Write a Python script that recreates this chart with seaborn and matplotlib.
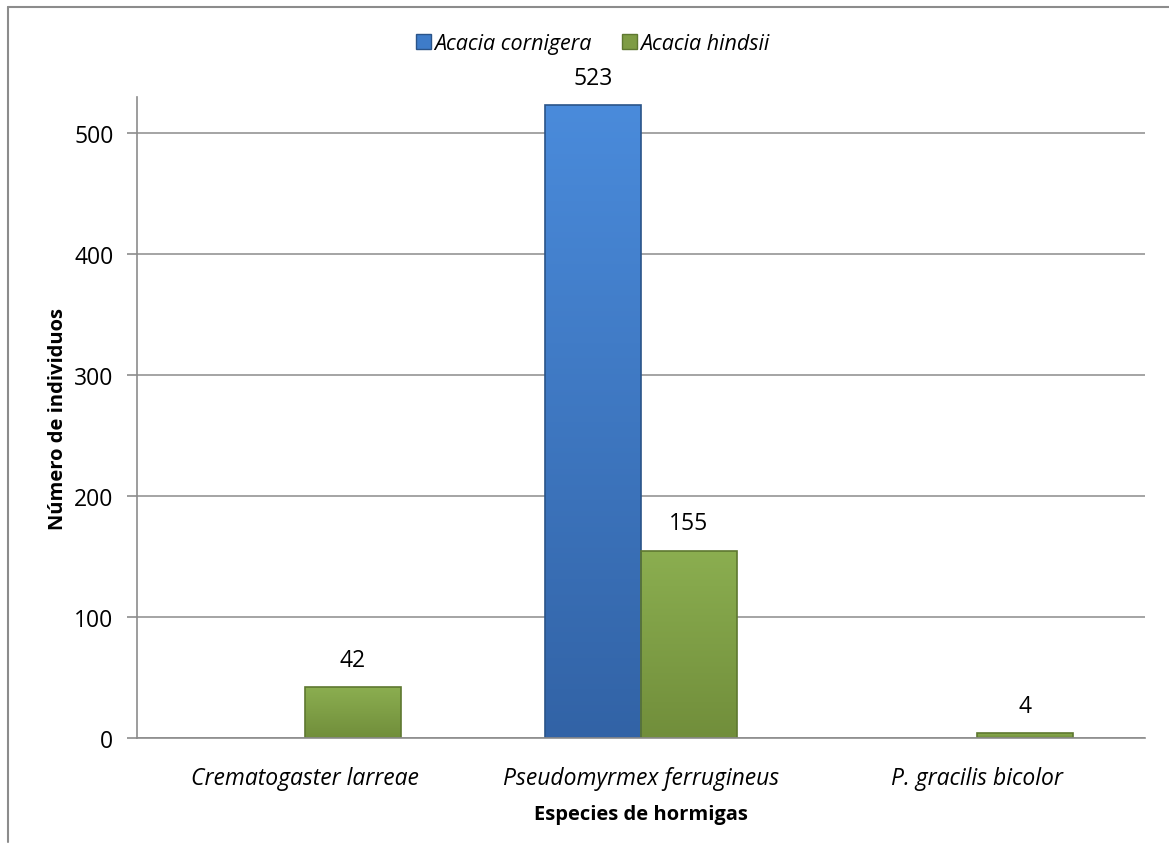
import numpy as np
import pandas as pd
import matplotlib
matplotlib.use("Agg")
import matplotlib.pyplot as plt
from matplotlib.lines import Line2D
from matplotlib.patches import Patch
from matplotlib.colors import LinearSegmentedColormap
import seaborn as sns

# Ant species counted on each acacia host
especies = ["Crematogaster larreae", "Pseudomyrmex ferrugineus", "P. gracilis bicolor"]
acacias = ["Acacia cornigera", "Acacia hindsii"]
cornigera = [None, 523, None]
hindsii = [42, 155, 4]
y_ticks = [0, 100, 200, 300, 400, 500]

rows = []
for sp, c, h in zip(especies, cornigera, hindsii):
    if c is not None:
        rows.append({"especie": sp, "acacia": acacias[0], "n": c})
    if h is not None:
        rows.append({"especie": sp, "acacia": acacias[1], "n": h})
df = pd.DataFrame(rows)

sns.set_theme(style="white")
font = ["Open Sans", "DejaVu Sans"]
plt.rcParams["font.family"] = font
plt.rcParams["text.color"] = "#000000"
plt.rcParams["axes.labelcolor"] = "#000000"
plt.rcParams["xtick.color"] = "#000000"
plt.rcParams["ytick.color"] = "#000000"

FS = 16.5
LABEL_FS = 14.5

base = {"Acacia cornigera": "#3E7CC9", "Acacia hindsii": "#7E9C44"}
grad = {
    "Acacia cornigera": ("#4A8BDB", "#3263A6"),
    "Acacia hindsii": ("#8BAE50", "#718E3B"),
}
edges = {"Acacia cornigera": "#2A5489", "Acacia hindsii": "#5E7830"}

fig = plt.figure(figsize=(11.69, 8.45), dpi=100)
ax = fig.add_axes([0.1172, 0.1254, 0.8623, 0.7586])

sns.barplot(data=df, x="especie", y="n", hue="acacia", order=especies,
            hue_order=acacias, palette=base, width=0.57, dodge=True,
            saturation=1, ax=ax, legend=False, errorbar=None)

# vertical gradient fill clipped to each bar
for container, name in zip(ax.containers, acacias):
    cmap = LinearSegmentedColormap.from_list(name, [grad[name][1], grad[name][0]])
    for bar, val in zip(container.patches, container.datavalues):
        if not np.isfinite(val) or bar.get_height() <= 0:
            continue
        x0, y0 = bar.get_x(), bar.get_y()
        w, h = bar.get_width(), bar.get_height()
        g = np.linspace(0, 1, 256).reshape(-1, 1)
        im = ax.imshow(g, extent=[x0, x0 + w, y0, y0 + h], origin="lower",
                       aspect="auto", cmap=cmap, zorder=2.1)
        im.set_clip_path(bar)
        bar.set_edgecolor(edges[name])
        bar.set_linewidth(1.2)
        bar.set_zorder(2.2)
        bar.set_facecolor("none")
        ax.annotate(f"{int(val)}", (x0 + w / 2, y0 + h), xytext=(0, 11),
                    textcoords="offset points", ha="center", va="bottom",
                    fontsize=FS, family=font, color="black")

ax.set_xlim(-0.5, 2.5)
ax.set_ylim(0, 530)
ax.set_yticks(y_ticks)
ax.set_yticklabels([str(t) for t in y_ticks], fontsize=FS)
ax.set_xticks(range(len(especies)))
ax.set_xticklabels(especies, fontsize=FS, style="italic")
ax.tick_params(axis="y", length=7, width=1.2, color="#8C8C8C", left=True,
               pad=10, labelcolor="black")
ax.tick_params(axis="x", length=0, pad=20, labelcolor="black")

ax.grid(axis="y", color="#8C8C8C", linewidth=1.1, zorder=0)
ax.set_axisbelow(True)
for s in ["top", "right"]:
    ax.spines[s].set_visible(False)
for s in ["left", "bottom"]:
    ax.spines[s].set_color("#8C8C8C")
    ax.spines[s].set_linewidth(1.2)

ax.set_xlabel("Especies de hormigas", fontsize=LABEL_FS, fontweight="bold",
              labelpad=10, color="black")
ax.set_ylabel("Número de individuos", fontsize=LABEL_FS, fontweight="bold",
              labelpad=4, color="black")

handles = [Patch(facecolor=base[a], edgecolor=edges[a]) for a in acacias]
fig.legend(handles, acacias, loc="center", bbox_to_anchor=(0.507, 0.947),
           ncol=2, frameon=False, handlelength=0.7, handleheight=0.7,
           handletextpad=0.15, columnspacing=1.4,
           prop={"size": 15.5, "style": "italic", "family": font})

# outer frame of the chart area
fig.add_artist(Line2D([7.5 / 1169, 7.5 / 1169], [1 - 843 / 845, 1 - 8 / 845],
                      transform=fig.transFigure, color="#8C8C8C", lw=1.5))
fig.add_artist(Line2D([7.5 / 1169, 1.0], [1 - 8 / 845, 1 - 8 / 845],
                      transform=fig.transFigure, color="#8C8C8C", lw=1.5))

fig.savefig("out.png", dpi=100, facecolor="white")
